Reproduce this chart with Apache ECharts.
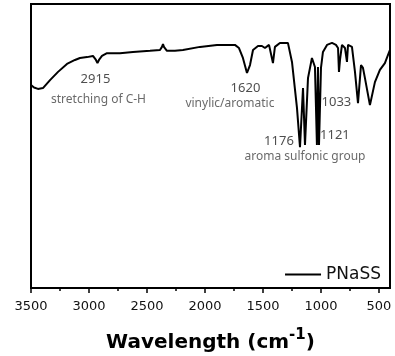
<!DOCTYPE html>
<html><head><meta charset="utf-8">
<script src="https://cdn.jsdelivr.net/npm/echarts@6/dist/echarts.min.js"></script>
<style>html,body{margin:0;padding:0;background:#fff}#c{width:395px;height:356px}</style>
</head><body><div id="c"></div>
<script>
// FTIR spectrum of PNaSS (wavenumber in cm-1, transmittance in arbitrary %)
const wavenumber = [3500,3474,3440,3397,3336,3267,3190,3121,3078,3017,2966,2940,2927,2914,2888,2845,2733,2621,2474,2388,2371,2362,2354,2328,2259,2190,2043,1897,1742,1707,1673,1638,1612,1586,1543,1509,1483,1466,1448,1431,1414,1397,1354,1285,1250,1207,1181,1155,1138,1112,1078,1052,1035,1026,1017,1000,983,948,905,871,853,845,836,819,793,776,767,733,707,681,655,638,621,578,535,492,449,406];
const transmittance = [71.5,70.6,70.1,70.4,73.2,76.1,78.9,80.3,81.0,81.3,81.7,80.3,79.2,80.3,81.7,82.7,82.7,83.1,83.5,83.8,84.9,85.9,84.9,83.5,83.5,83.8,84.9,85.6,85.6,84.5,81.0,75.7,78.5,83.8,85.2,85.2,84.5,83.8,85.6,84.9,79.2,84.9,86.3,86.3,79.6,63.4,49.6,70.4,50.4,73.9,81.0,77.8,50.4,77.8,50.4,77.5,83.1,85.6,86.3,85.6,84.5,76.1,80.3,85.6,84.5,79.6,85.6,84.9,76.1,65.1,78.5,77.5,73.9,64.4,72.5,76.8,79.2,83.8];
const seriesName = 'PNaSS';
const majorTicks = [500,1000,1500,2000,2500,3000,3500];
const minorTicks = [750,1250,1750,2250,2750,3250];
// annotation texts and their anchor (wavenumber, transmittance)
const noteText = ['2915','stretching of C-H','1620','vinylic/aromatic','1033','1176','1121','aroma sulfonic group'];
const noteWn   = [2944,2918,1651,1785,867,1362,880,1138];
const noteT    = [73.6,66.2,70.4,65.1,65.5,51.8,53.9,46.1];
const noteKind = ['num','desc','num','desc','num','num','num','desc'];

const chart = echarts.init(document.getElementById('c'), null, {renderer:'canvas'});
const spectrum = wavenumber.map((w,i)=>[w, transmittance[i]]);
const notes = noteText.map((t,i)=>({name:t, value:[noteWn[i], noteT[i]],
  label:{show:true, position:'inside', formatter:'{b}',
    fontFamily:'Noto Sans', fontSize: noteKind[i]==='num'?13:12,
    color: noteKind[i]==='num'?'#222':'#444'}}));

chart.setOption({
  animation:false,
  grid:{left:31,right:5,top:4,bottom:68,show:true,borderColor:'#000',borderWidth:2,backgroundColor:'#fff',
    outerBoundsMode:'none', containLabel:false},
  legend:{data:[{name:seriesName, icon:'rect'}], right:9, top:261, itemWidth:36, itemHeight:2,
    itemGap:4, textStyle:{fontFamily:'DejaVu Sans', fontSize:17, color:'#111'}},
  xAxis:[{
    type:'value', inverse:true, min:405, max:3500,
    axisLine:{show:true, lineStyle:{color:'#000', width:2}},
    axisTick:{show:true, inside:false, length:5, lineStyle:{color:'#000', width:1.5}, customValues:majorTicks},
    axisLabel:{show:true, margin:12, customValues:majorTicks, formatter:v=>String(v),
      fontFamily:'DejaVu Sans', fontSize:13, color:'#111'},
    splitLine:{show:false},
    name:'{a|Wavelength (cm}{s|-1}{a|)}', nameLocation:'middle', nameGap:40,
    nameTextStyle:{rich:{
      a:{fontFamily:'DejaVu Sans', fontWeight:'bold', fontSize:20, color:'#000'},
      s:{fontFamily:'DejaVu Sans', fontWeight:'bold', fontSize:15, color:'#000', padding:[0,0,14,0]}
    }}
  },{
    type:'value', inverse:true, min:405, max:3500, position:'bottom',
    axisLine:{show:false},
    axisTick:{show:true, length:3, lineStyle:{color:'#000', width:1.5}, customValues:minorTicks},
    axisLabel:{show:false}, splitLine:{show:false}
  }],
  yAxis:{type:'value', min:0, max:100, show:false},
  series:[{
    name:seriesName, type:'line', data:spectrum, showSymbol:false, symbol:'none',
    lineStyle:{color:'#000', width:2}, itemStyle:{color:'#000'}
  },{
    name:'notes', type:'scatter', data:notes, symbolSize:0, silent:true
  }]
});
</script></body></html>
